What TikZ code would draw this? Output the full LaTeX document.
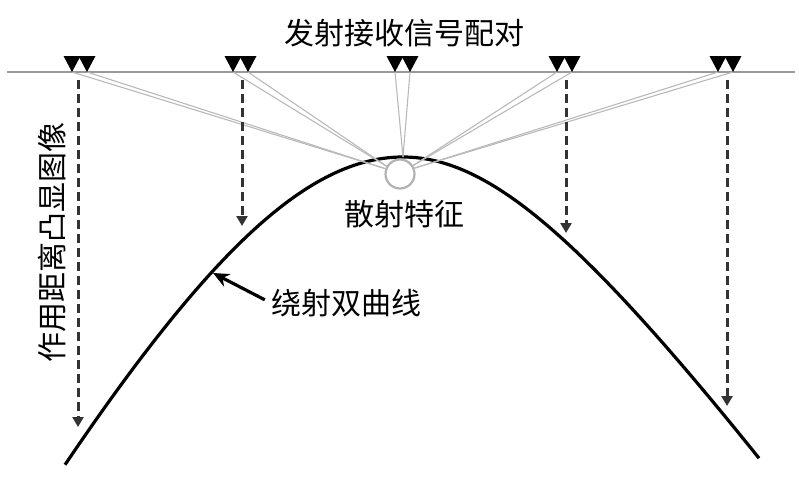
\documentclass[tikz,border=0pt]{standalone}
\usepackage{fontspec}
\newfontfamily\cjk{Noto Sans CJK SC}
\usepackage{tikz}
\usetikzlibrary{arrows.meta,calc}
\tikzset{
  groundline/.style={draw=gray!80, line width=2.6pt},
  rxmark/.style={fill=black},
  rayline/.style={draw=gray!55, line width=1.1pt},
  rangearrow/.style={draw=black!80, line width=3pt, dash pattern=on 9pt off 5pt, -{Triangle[length=10pt, width=11pt]}},
  hypercurve/.style={draw=black, line width=3.2pt},
  scatmark/.style={circle, draw=gray!60, line width=2.2pt, minimum size=29pt, inner sep=0pt},
  labeltext/.style={font=\cjk\fontsize{30}{36}\selectfont, inner sep=0pt},
  pointer/.style={-{Stealth[length=16pt, width=14pt]}, line width=3.2pt}
}

\begin{document}
\begin{tikzpicture}[x=1pt, y=-1pt]
  \useasboundingbox (0,0) rectangle (799,479);
  % ground surface
  \coordinate (gl) at (7,72);
  \coordinate (gr) at (795,72);
  \draw[groundline] (gl) -- (gr);
  % diffraction hyperbola
  \coordinate (apex) at (403,157);
  \draw[hypercurve] plot[domain=65:403, samples=90] (\x, {157+511*(sqrt(1+((\x-403)/270)^2)-1)})
    -- plot[domain=403:759, samples=90] (\x, {157+268*(sqrt(1+((\x-403)/190)^2)-1)});
  \node[scatmark] (scat) at (400,174) {};
  % antenna pairs
  \foreach \i/\xa in {1/72, 2/233, 3/395, 4/557, 5/718} {
    \coordinate (t\i a) at (\xa,72);
    \coordinate (t\i b) at (\xa+15,72);
  }
  \foreach \i/\tgt in {1/scat.160, 2/scat.150, 3/apex, 4/scat.33, 5/scat.22} {
    \draw[rayline] (t\i a) -- (\tgt);
    \draw[rayline] (t\i b) -- (\tgt);
  }
  \foreach \i in {1,...,5} {
    \fill[rxmark] (t\i a) -- ++(-8.5,-16) -- ++(17,0) -- cycle;
    \fill[rxmark] (t\i b) -- ++(-8.5,-16) -- ++(17,0) -- cycle;
  }
  % range arrows
  \foreach \i/\xd/\yd in {1/78/427, 2/242/226, 4/566/233, 5/727/406} {
    \coordinate (d\i top) at (\xd,80);
    \coordinate (d\i end) at (\xd,\yd);
    \draw[rangearrow] (d\i top) -- (d\i end);
  }
  % labels
  \node[labeltext] (title) at (404,33) {发射接收信号配对};
  \node[labeltext] (scatlbl) at (404,214) {散射特征};
  \node[labeltext, anchor=west] (hyplbl) at (271,303) {绕射双曲线};
  \node[labeltext, rotate=90] (rangelbl) at (52,242) {作用距离凸显图像};
  \coordinate (hyppt) at (213,273);
  \draw[pointer, shorten <=7pt] (hyplbl.west) -- (hyppt);
\end{tikzpicture}
\end{document}
